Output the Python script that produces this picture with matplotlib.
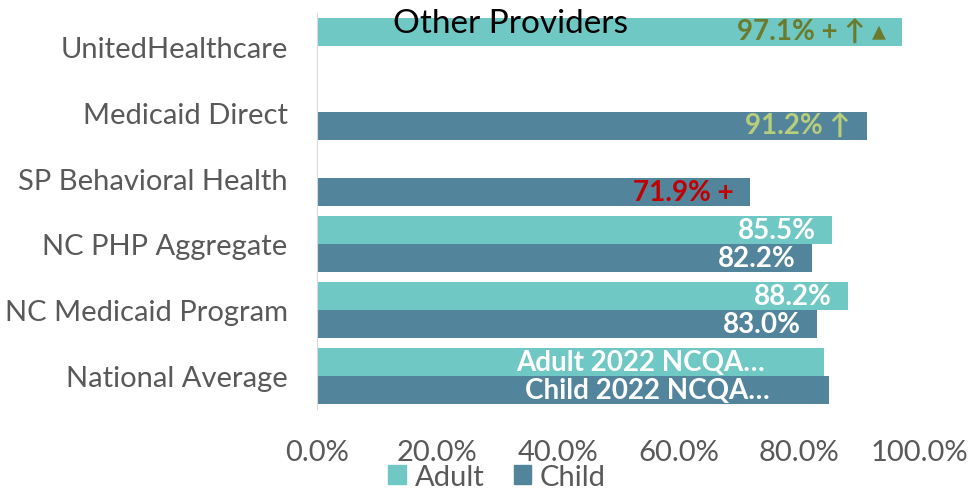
import matplotlib
matplotlib.use("Agg")
import matplotlib.pyplot as plt
import numpy as np
from matplotlib.patches import Patch

categories = ["National Average", "NC Medicaid Program", "NC PHP Aggregate",
              "SP Behavioral Health", "Medicaid Direct", "UnitedHealthcare"]
adult = [0.842, 0.882, 0.855, np.nan, np.nan, 0.971]
child = [0.850, 0.830, 0.822, 0.719, 0.912, np.nan]
adult_labels = ["Adult 2022 NCQA…", "88.2%", "85.5%", "", "", "97.1% + \u2191 \u25b4"]
child_labels = ["Child 2022 NCQA…", "83.0%", "82.2%", "71.9% +", "91.2% \u2191", ""]
adult_label_colors = ["white", "white", "white", "white", "white", "#6B7A2C"]
child_label_colors = ["white", "white", "white", "#C00000", "#B8CE7C", "white"]
xticks = [0.0, 0.2, 0.4, 0.6, 0.8, 1.0]
title = "Other Providers"

FAM = ["Lato", "DejaVu Sans"]
plt.rcParams['font.family'] = FAM

ADULT_C = "#6FC8C4"
CHILD_C = "#52849C"

fig = plt.figure(figsize=(9.69, 4.89), dpi=100)
ax = fig.add_axes([0.327, 0.162, 0.622, 0.809])

y = np.arange(len(categories))
h = 0.42
ax.barh(y + h / 2, adult, height=h, color=ADULT_C)
ax.barh(y - h / 2, child, height=h, color=CHILD_C)

for i in range(len(categories)):
    for vals, labs, cols, off in ((adult, adult_labels, adult_label_colors, h / 2),
                                  (child, child_labels, child_label_colors, -h / 2)):
        v = vals[i]
        if np.isnan(v) or not labs[i]:
            continue
        inset = -43 if i == 0 else -12
        ax.annotate(labs[i], xy=(v, y[i] + off), xytext=(inset, 0),
                    textcoords="offset points", ha="right", va="center",
                    fontsize=20, fontweight="bold", color=cols[i], family=FAM)

ax.set_xlim(0, 1.0)
ax.set_ylim(-0.5, len(categories) - 0.5)
ax.set_yticks(y)
ax.set_yticklabels(categories, fontsize=21, color="#595959")
ax.set_xticks(xticks)
ax.set_xticklabels([f"{t*100:.1f}%" for t in xticks], fontsize=21, color="#595959")
ax.tick_params(axis="both", length=0)
ax.tick_params(axis="y", pad=21)
ax.tick_params(axis="x", pad=22)
for s in ("top", "right", "bottom"):
    ax.spines[s].set_visible(False)
ax.spines["left"].set_color("#D9D9D9")

fig.text(0.527, 0.951, title, ha="center", va="center", fontsize=24, color="black", zorder=10)

handles = [Patch(color=ADULT_C, label="Adult"), Patch(color=CHILD_C, label="Child")]
fig.legend(handles=handles, loc="center", bbox_to_anchor=(0.513, 0.023), ncol=2,
           frameon=False, fontsize=21, handlelength=0.6, handleheight=0.6,
           handletextpad=0.3, columnspacing=1.0, labelcolor="#595959")

fig.savefig("out.png", dpi=100)
